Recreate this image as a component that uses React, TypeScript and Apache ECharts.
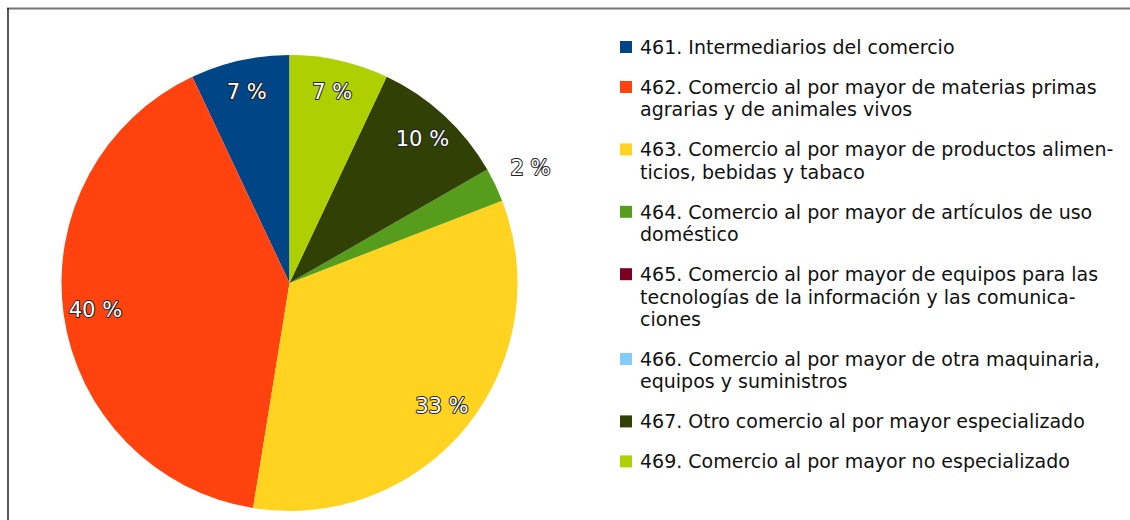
import React, { useEffect, useRef } from "react";
import * as echarts from "echarts";

const codes = ["461", "462", "463", "464", "465", "466", "467", "469"];
const legendLines = [
  ["461. Intermediarios del comercio"],
  ["462. Comercio al por mayor de materias primas", "agrarias y de animales vivos"],
  ["463. Comercio al por mayor de productos alimen-", "ticios, bebidas y tabaco"],
  ["464. Comercio al por mayor de artículos de uso", "doméstico"],
  [
    "465. Comercio al por mayor de equipos para las",
    "tecnologías de la información y las comunica-",
    "ciones",
  ],
  ["466. Comercio al por mayor de otra maquinaria,", "equipos y suministros"],
  ["467. Otro comercio al por mayor especializado"],
  ["469. Comercio al por mayor no especializado"],
];
const values = [7.0, 40.4, 33.4, 2.4, 0, 0, 9.7, 7.0];
const colors = ["#004586", "#ff420e", "#ffd320", "#579d1c", "#7e0021", "#83caff", "#314004", "#aecf00"];

const FONT = "'DejaVu Sans', 'Liberation Sans', Arial, sans-serif";

export default function App() {
  const ref = useRef<HTMLDivElement>(null);

  useEffect(() => {
    if (!ref.current) return;
    const chart = echarts.init(ref.current, undefined, { renderer: "svg" });

    const cx = 289.5;
    const cy = 283;
    const R = 228;

    const data = codes.map((c, i) => ({
      name: legendLines[i].join(" "),
      value: values[i],
      itemStyle: { color: colors[i] },
    }));

    const labelStyle = {
      color: "#ffffff",
      fontSize: 21,
      fontFamily: FONT,
      textBorderColor: "#222222",
      textBorderWidth: 2,
    };

    const lineH = 22.4;
    const gap = 17.6;
    const legendEls: any[] = [];
    let y = 47;
    legendLines.forEach((lines, i) => {
      legendEls.push({
        type: "rect",
        shape: { x: 620, y: y - 6, width: 12, height: 12 },
        style: { fill: colors[i] },
      });
      legendEls.push({
        type: "text",
        x: 640,
        y: y - lineH / 2,
        style: {
          text: lines.join("\n"),
          fill: "#111111",
          font: `19px ${FONT}`,
          lineHeight: lineH,
          verticalAlign: "top",
          align: "left",
        },
      });
      y += lines.length * lineH + gap;
    });

    const ringFormatter = (small: boolean) => (p: any) => {
      if (!p.value) return "";
      const isSmall = p.percent < 5;
      if (isSmall !== small) return "";
      return Math.round(p.percent) + " %";
    };

    chart.setOption({
      animation: false,
      graphic: [
        {
          type: "line",
          shape: { x1: 7, y1: 8.5, x2: 1130, y2: 8.5 },
          style: { stroke: "#777777", lineWidth: 2 },
        },
        {
          type: "line",
          shape: { x1: 8, y1: 8, x2: 8, y2: 520 },
          style: { stroke: "#222222", lineWidth: 1.5 },
        },
        ...legendEls,
      ],
      series: [
        {
          type: "pie",
          center: [cx, cy],
          radius: [0, R],
          startAngle: 90,
          clockwise: false,
          silent: true,
          label: { show: false },
          labelLine: { show: false },
          data,
        },
        {
          type: "pie",
          center: [cx, cy],
          radius: [R - 70, R],
          startAngle: 90,
          clockwise: false,
          silent: true,
          itemStyle: { color: "rgba(0,0,0,0)" },
          label: { show: true, position: "inside", formatter: ringFormatter(false), ...labelStyle },
          labelLine: { show: false },
          data: data.map((d) => ({ name: d.name, value: d.value })),
        },
        {
          type: "pie",
          center: [cx, cy],
          radius: [R, R + 72],
          startAngle: 90,
          clockwise: false,
          silent: true,
          itemStyle: { color: "rgba(0,0,0,0)" },
          label: { show: true, position: "inside", formatter: ringFormatter(true), ...labelStyle },
          labelLine: { show: false },
          data: data.map((d) => ({ name: d.name, value: d.value })),
        },
      ],
    });

    return () => chart.dispose();
  }, []);

  return (
    <div
      ref={ref}
      style={{ position: "fixed", left: 0, top: 0, width: 1130, height: 520, background: "#ffffff" }}
    />
  );
}
